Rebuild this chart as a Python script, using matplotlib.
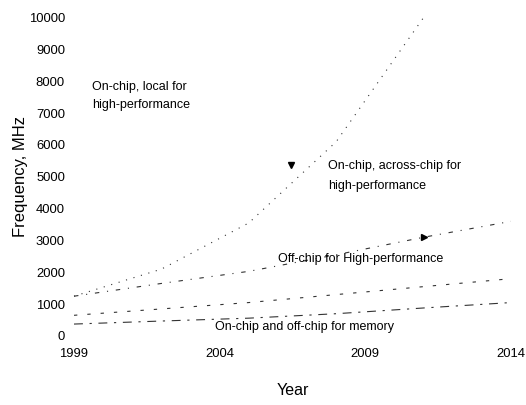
import numpy as np
import matplotlib
matplotlib.use("Agg")
from matplotlib import pyplot as plt

plt.rcParams["font.family"] = ["Liberation Sans", "DejaVu Sans"]

# clock frequencies, MHz
years = [1999, 2002, 2005, 2008, 2011, 2014]
local_hp = [1250, 2100, 3550, 6100, 10000]
across_hp = [1250, 1650, 2030, 2550, 3100, 3600]
offchip_hp = [650, 850, 1050, 1300, 1550, 1800]
memory = [375, 470, 560, 700, 880, 1050]

# annotation arrowhead
arrow_pt = (2006.45, 5370)

xticks = [1999, 2004, 2009, 2014]
yticks = list(range(0, 10001, 1000))

fig = plt.figure(figsize=(5.26, 4.05), dpi=100)
ax = fig.add_axes([74 / 526, 69 / 405, 437 / 526, 318.5 / 405])

lc = "0.2"
ax.plot(years[:len(local_hp)], local_hp, color=lc, lw=0.8,
        dashes=(1, 6), clip_on=False)
ax.plot(years, across_hp, color=lc, lw=0.8, dashes=(4, 7, 1, 7),
        marker=">", markersize=5, markevery=[4], mfc="black", mec="black")
ax.plot(years, offchip_hp, color=lc, lw=0.8, dashes=(3, 9))
ax.plot(years, memory, color=lc, lw=0.8, dashes=(8, 6, 2, 6))
ax.plot([arrow_pt[0]], [arrow_pt[1]], marker="v", color="black",
        markersize=5, linestyle="none")

tfont = dict(fontsize=9, color="black")
ax.text(1999.62, 7540, "On-chip, local for\nhigh-performance",
        va="center", linespacing=1.6, **tfont)
ax.text(2007.72, 5020, "On-chip, across-chip for\nhigh-performance",
        va="center", linespacing=1.85, **tfont)
ax.text(2006.0, 2420, "Off-chip for High-performance", va="center", **tfont)
ax.text(2003.84, 290, "On-chip and off-chip for memory", va="center", **tfont)

ax.set_xlim(1999, 2014)
ax.set_ylim(0, 10000)
ax.set_xticks(xticks)
ax.set_yticks(yticks)
ax.set_xticklabels([str(x) for x in xticks], fontsize=9.4)
ax.set_yticklabels([str(y) for y in yticks], fontsize=9.4)
ax.tick_params(length=0)
ax.tick_params(axis="y", pad=6.5)
ax.tick_params(axis="x", pad=8.5)
for s in ax.spines.values():
    s.set_visible(False)

ax.set_ylabel("Frequency, MHz", fontsize=12)
ax.yaxis.set_label_coords(-0.105, 0.5)
ax.set_xlabel("Year", fontsize=11.5, va="top")
ax.xaxis.set_label_coords(0.5, -0.148)

fig.savefig("out.png", dpi=100)
